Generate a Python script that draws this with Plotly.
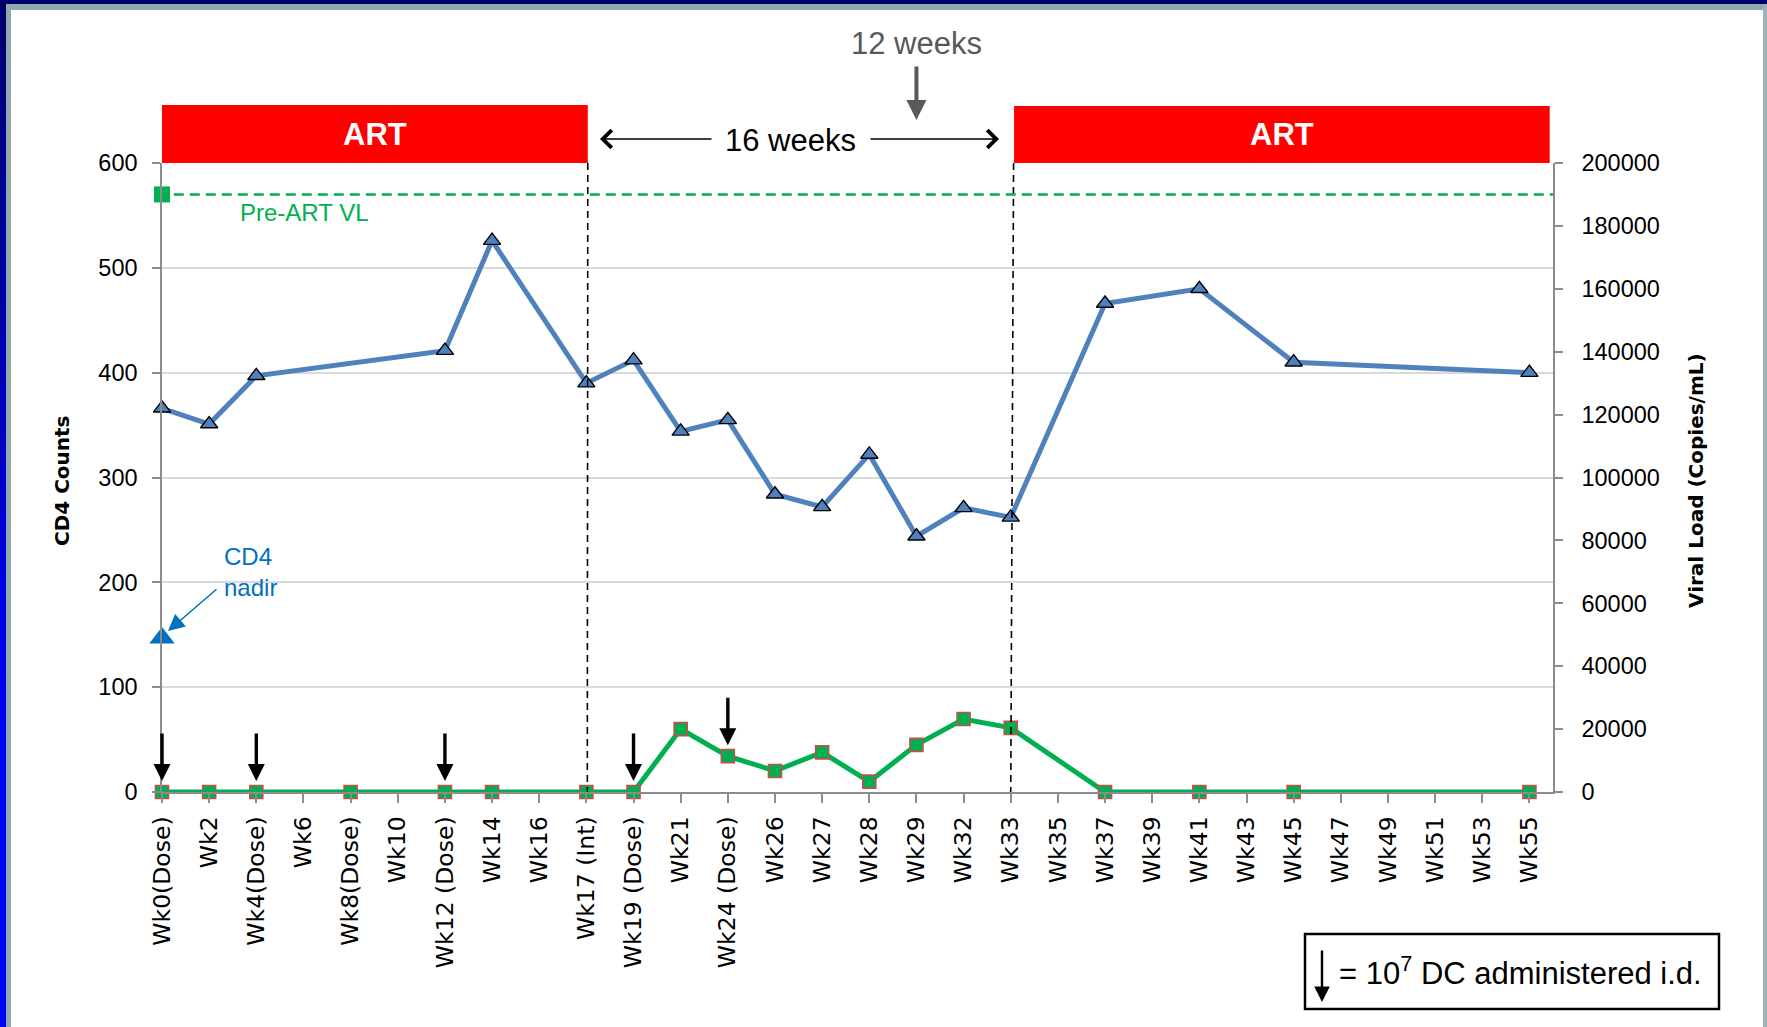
import plotly.graph_objects as go

# ---- data -----------------------------------------------------------------
weeks = ["Wk0(Dose)", "Wk2", "Wk4(Dose)", "Wk6", "Wk8(Dose)", "Wk10", "Wk12 (Dose)",
         "Wk14", "Wk16", "Wk17 (Int)", "Wk19 (Dose)", "Wk21", "Wk24 (Dose)", "Wk26",
         "Wk27", "Wk28", "Wk29", "Wk32", "Wk33", "Wk35", "Wk37", "Wk39", "Wk41",
         "Wk43", "Wk45", "Wk47", "Wk49", "Wk51", "Wk53", "Wk55"]

cd4_counts = [366, 351, 397, None, None, None, 421, 526, None, 390, 412, 344, 355, 284,
              272, 322, 244, 271, 262, None, 466, None, 480, None, 410, None, None,
              None, None, 400]

viral_load = [0, 0, 0, None, 0, None, 0, 0, None, 0, 0, 20000, 11400, 6700,
              12600, 3300, 15000, 23200, 20400, None, 0, None, 0, None, 0, None, None,
              None, None, 0]

dose_weeks = ["Wk0(Dose)", "Wk4(Dose)", "Wk12 (Dose)", "Wk19 (Dose)", "Wk24 (Dose)"]

cd4_nadir = 147
pre_art_vl = 190000

cd4_ticks = [0, 100, 200, 300, 400, 500, 600]
vl_ticks = [0, 20000, 40000, 60000, 80000, 100000, 120000, 140000, 160000, 180000, 200000]

# ---- geometry helpers ----------------------------------------------------
FIG_W, FIG_H = 1767, 1027
L, T, W, H = 162, 163, 1391, 629
R, B = FIG_W - L - W, FIG_H - T - H
X_MAX = 29.5


def fx(px):
    return (px - L) / W


def fy(py):
    return (T + H - py) / H


def dx(px):
    return (px - L) / W * X_MAX


idx = {w: i for i, w in enumerate(weeks)}

BLUE = "#4F81BD"
GREEN = "#00B050"
RED_EDGE = "#C0504D"
AXIS_GREY = "#8C8C8C"
GRID = "#D9D9D9"
TXT = "Liberation Sans, Arial, sans-serif"

fig = go.Figure()

cx = [i for i, v in enumerate(cd4_counts) if v is not None]
cy = [v for v in cd4_counts if v is not None]
fig.add_trace(go.Scatter(
    x=cx, y=cy, mode="lines+markers", name="CD4",
    line=dict(color=BLUE, width=5),
    marker=dict(symbol="triangle-up", size=15, color=BLUE, line=dict(color="black", width=1.4)),
    cliponaxis=False, showlegend=False))

vx = [i for i, v in enumerate(viral_load) if v is not None]
vy = [v for v in viral_load if v is not None]
fig.add_trace(go.Scatter(
    x=vx, y=vy, mode="lines+markers", name="Viral Load", yaxis="y2",
    line=dict(color=GREEN, width=5),
    marker=dict(symbol="square", size=13, color=GREEN, line=dict(color=RED_EDGE, width=1.6)),
    cliponaxis=False, showlegend=False))

fig.add_trace(go.Scatter(
    x=[0], y=[cd4_nadir], mode="markers",
    marker=dict(symbol="triangle-up", size=22, color="#0070C0"),
    cliponaxis=False, showlegend=False))

fig.add_trace(go.Scatter(
    x=[0], y=[pre_art_vl], mode="markers", yaxis="y2",
    marker=dict(symbol="square", size=16, color=GREEN),
    cliponaxis=False, showlegend=False))

shapes = []

# slide frame
for i in range(40):
    t = i / 39
    col = "rgb(0,0,%d)" % int(110 + (255 - 110) * min(1.0, t * 1.4))
    shapes.append(dict(type="rect", xref="paper", yref="paper",
                       x0=fx(0), x1=fx(6), y0=fy(i * FIG_H / 40), y1=fy((i + 1) * FIG_H / 40 + 1),
                       fillcolor=col, line=dict(width=0), layer="below"))
shapes.append(dict(type="rect", xref="paper", yref="paper", x0=fx(6), x1=fx(11),
                   y0=fy(FIG_H), y1=fy(4), fillcolor="#8FA9AE", line=dict(width=0), layer="below"))
shapes.append(dict(type="rect", xref="paper", yref="paper", x0=fx(6), x1=fx(FIG_W),
                   y0=fy(10), y1=fy(4), fillcolor="#8FA9AE", line=dict(width=0), layer="below"))
shapes.append(dict(type="rect", xref="paper", yref="paper", x0=fx(FIG_W - 4), x1=fx(FIG_W),
                   y0=fy(FIG_H), y1=fy(4), fillcolor="#9DB3B7", line=dict(width=0), layer="below"))
shapes.append(dict(type="rect", xref="paper", yref="paper", x0=fx(0), x1=fx(FIG_W),
                   y0=fy(4), y1=fy(0), fillcolor="#00006E", line=dict(width=0), layer="below"))

# ART periods
shapes.append(dict(type="rect", xref="x", yref="paper", x0=0, x1=9.03, y0=1.0, y1=fy(105),
                   fillcolor="#FF0000", line=dict(width=0)))
shapes.append(dict(type="rect", xref="x", yref="paper", x0=18.07, x1=29.43, y0=1.0, y1=fy(106),
                   fillcolor="#FF0000", line=dict(width=0)))

# treatment interruption boundaries
shapes.append(dict(type="line", xref="x", yref="paper", x0=9.03, x1=9.02, y0=1.0, y1=0,
                   line=dict(color="black", width=1.6, dash="7px,5px")))
shapes.append(dict(type="line", xref="x", yref="paper", x0=18.06, x1=18.0, y0=1.0, y1=0,
                   line=dict(color="black", width=1.6, dash="7px,5px")))

# pre-ART viral load reference
shapes.append(dict(type="line", xref="x", yref="y2", x0=0.25, x1=X_MAX, y0=pre_art_vl, y1=pre_art_vl,
                   line=dict(color=GREEN, width=2.5, dash="10px,6px")))

# key box
shapes.append(dict(type="rect", xref="paper", yref="paper", x0=fx(1305), x1=fx(1719),
                   y0=fy(1009), y1=fy(934), line=dict(color="black", width=2.5)))

annotations = []


def label(x, y, text, size, color, xref="x", yref="paper", bold=False, family=TXT, **kw):
    opts = dict(x=x, y=y, xref=xref, yref=yref, text=("<b>%s</b>" % text) if bold else text,
                showarrow=False, xanchor="center", yanchor="middle",
                font=dict(family=family, size=size, color=color))
    opts.update(kw)
    annotations.append(opts)


label(4.515, fy(134), "ART", 31, "white", bold=True)
label(23.75, fy(135), "ART", 31, "white", bold=True)
label(dx(790), fy(140), "16 weeks", 31, "black")
label(idx["Wk29"], fy(44), "12 weeks", 31, "#595959")
label(dx(304), fy(213), "Pre-ART VL", 24, GREEN)
label(dx(222), fy(572), "CD4<br>nadir", 24, "#0070C0", xanchor="left", align="left")
label(fx(1337), fy(971), "= 10<sup>7</sup> DC administered i.d.", 31, "black",
      xref="paper", xanchor="left")
label(fx(62), fy(481), "CD4 Counts", 20, "black", xref="paper", bold=True,
      family="DejaVu Sans", textangle=-90)
label(fx(1696), fy(480), "Viral Load (Copies/mL)", 20, "black", xref="paper", bold=True,
      family="DejaVu Sans", textangle=-90)

# 16-week interruption span
annotations.append(dict(x=dx(600), y=fy(139), xref="x", yref="paper", text="",
                        showarrow=True, ax=dx(713), axref="x", ay=0, ayref="pixel",
                        arrowhead=4, arrowsize=2.3, arrowwidth=1.5, arrowcolor="black"))
annotations.append(dict(x=dx(999), y=fy(139), xref="x", yref="paper", text="",
                        showarrow=True, ax=dx(869), axref="x", ay=0, ayref="pixel",
                        arrowhead=4, arrowsize=2.3, arrowwidth=1.5, arrowcolor="black"))

# 12 weeks after interruption
annotations.append(dict(x=idx["Wk29"], y=fy(120), xref="x", yref="paper", text="",
                        showarrow=True, ax=0, ay=-55, arrowhead=2, arrowsize=1.0,
                        arrowwidth=4, arrowcolor="#595959"))

# CD4 nadir pointer
annotations.append(dict(x=dx(168), y=fy(631), xref="x", yref="paper", text="",
                        showarrow=True, ax=50, ay=-43, arrowhead=2, arrowsize=2.2,
                        arrowwidth=1.5, arrowcolor="#0070C0"))

# DC doses
for w in dose_weeks:
    i = idx[w]
    yv = viral_load[i] if viral_load[i] is not None else 0
    annotations.append(dict(x=i, y=yv, xref="x", yref="y2", text="",
                            showarrow=True, ax=0, ay=-60, standoff=11,
                            arrowhead=2, arrowsize=1, arrowwidth=3.4, arrowcolor="black"))

# key arrow
annotations.append(dict(x=fx(1322), y=fy(1002), xref="paper", yref="paper", text="",
                        showarrow=True, ax=0, ay=-53, arrowhead=2, arrowsize=1.3,
                        arrowwidth=2.4, arrowcolor="black"))

fig.update_layout(
    width=FIG_W, height=FIG_H,
    margin=dict(l=L, r=R, t=T, b=B, pad=0),
    paper_bgcolor="white", plot_bgcolor="white",
    showlegend=False,
    shapes=shapes, annotations=annotations,
    xaxis=dict(
        range=[0, X_MAX], tickvals=list(range(len(weeks))), ticktext=weeks,
        tickangle=-90, tickfont=dict(family="DejaVu Sans", size=23.5, color="black"),
        showline=True, linecolor=AXIS_GREY, linewidth=2,
        ticks="outside", ticklen=9, tickwidth=1.5, tickcolor=AXIS_GREY,
        showgrid=False, zeroline=False, ticklabelstandoff=4),
    yaxis=dict(
        range=[0, 600], tickvals=cd4_ticks, ticktext=[str(v) for v in cd4_ticks],
        tickfont=dict(family=TXT, size=23.5, color="black"),
        showline=True, linecolor=AXIS_GREY, linewidth=1.5,
        ticks="outside", ticklen=8, tickwidth=1.5, tickcolor=AXIS_GREY,
        showgrid=True, gridcolor=GRID, gridwidth=2, zeroline=False, ticklabelstandoff=10),
    yaxis2=dict(
        range=[0, 200000], tickvals=vl_ticks, ticktext=[str(v) for v in vl_ticks],
        overlaying="y", side="right",
        tickfont=dict(family=TXT, size=23.5, color="black"),
        showline=True, linecolor=AXIS_GREY, linewidth=1.5,
        ticks="outside", ticklen=8, tickwidth=1.5, tickcolor=AXIS_GREY,
        showgrid=False, zeroline=False, ticklabelstandoff=14),
)

fig.write_html("out.html")
